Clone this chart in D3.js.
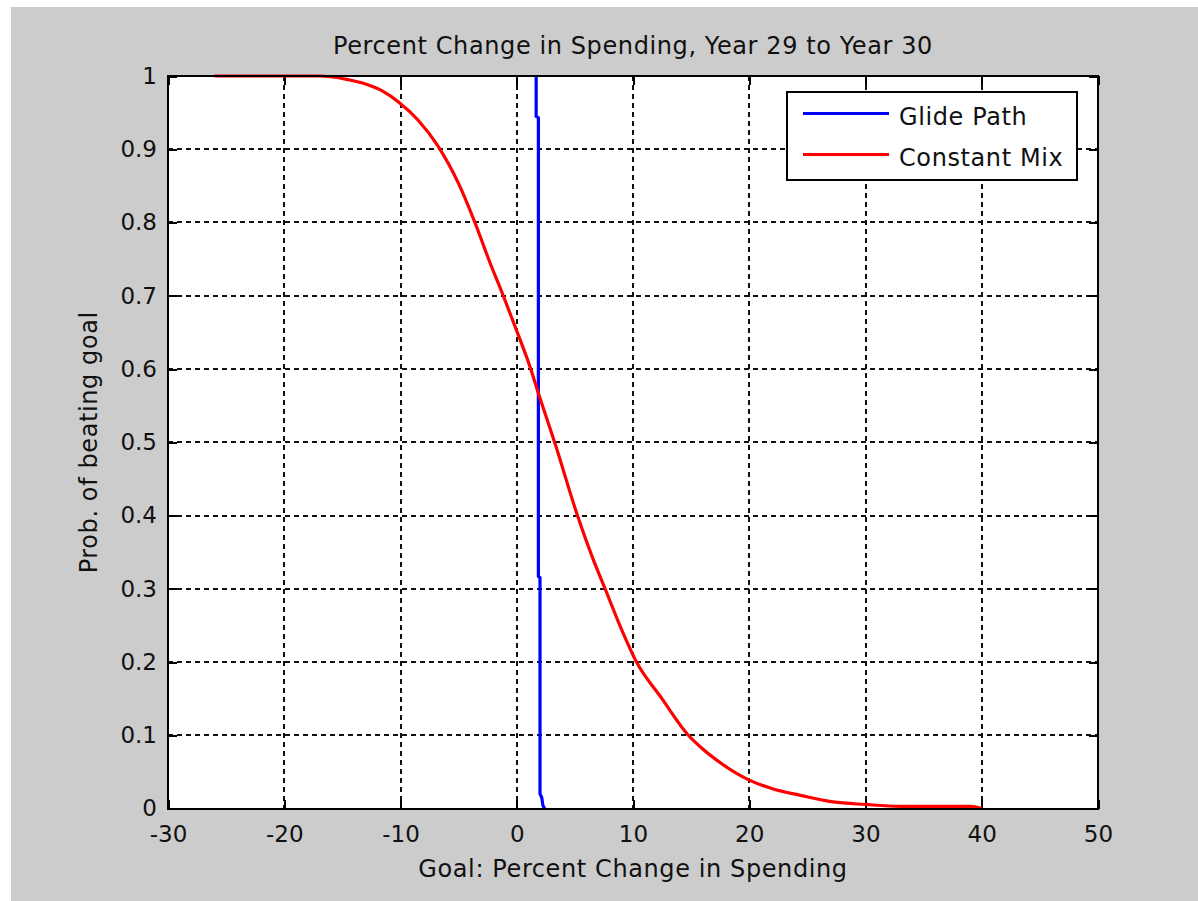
<!DOCTYPE html>
<html>
<head>
<meta charset="utf-8">
<script src="https://cdn.jsdelivr.net/npm/d3@7"></script>
<style>
  html, body { margin: 0; padding: 0; background: #ffffff; }
  svg { display: block; }
  text { font-family: "DejaVu Sans", "Liberation Sans", sans-serif; fill: #111; }
</style>
</head>
<body>
<svg id="chart" width="1198" height="901"></svg>
<script>
// ---- Data ----
const titleText = "Percent Change in Spending, Year 29 to Year 30";
const xLabelText = "Goal: Percent Change in Spending";
const yLabelText = "Prob. of beating goal";

const xTicks = [-30, -20, -10, 0, 10, 20, 30, 40, 50];
const xTickLabels = ["-30", "-20", "-10", "0", "10", "20", "30", "40", "50"];
const yTicks = [0, 0.1, 0.2, 0.3, 0.4, 0.5, 0.6, 0.7, 0.8, 0.9, 1];
const yTickLabels = ["0", "0.1", "0.2", "0.3", "0.4", "0.5", "0.6", "0.7", "0.8", "0.9", "1"];

const seriesNames = ["Glide Path", "Constant Mix"];
const seriesColors = ["#0000ff", "#ff0000"];

// Glide Path: goal (%) vs probability
const glideX = [1.67, 1.67, 1.86, 1.86, 2.0, 2.0, 2.15, 2.25, 2.4];
const glideY = [1.0, 0.945, 0.943, 0.317, 0.315, 0.02, 0.015, 0.004, 0.0];

// Constant Mix: goal (%) vs probability
const mixX = [-26, -17, -16, -14.5, -13.2, -11.5, -10.2, -8.5, -6.8, -5, -3.6, -2.3, -1.16, 0, 1.14, 1.86, 3.3, 5.16, 6.6, 7.6, 9, 10.3, 12.4, 14.76, 15.8, 17.2, 20.1, 22, 24.4, 27.2, 30, 33, 39, 40];
const mixY = [1, 1, 0.999, 0.995, 0.99, 0.979, 0.965, 0.94, 0.905, 0.853, 0.8, 0.745, 0.7, 0.652, 0.603, 0.567, 0.498, 0.403, 0.339, 0.3, 0.245, 0.2, 0.152, 0.1, 0.084, 0.066, 0.038, 0.027, 0.018, 0.009, 0.0055, 0.003, 0.003, 0];

// ---- Layout ----
const W = 1198, H = 901;
const plot = { left: 168, top: 76, right: 1098, bottom: 808.5 };
const fsBig = 24, fsTick = 23;
const ls = "0.6px";

const svg = d3.select("#chart");

svg.append("rect").attr("x", 11).attr("y", 7).attr("width", W - 11).attr("height", H - 7)
  .attr("fill", "#cccccc");

svg.append("rect").attr("x", plot.left).attr("y", plot.top)
  .attr("width", plot.right - plot.left).attr("height", plot.bottom - plot.top)
  .attr("fill", "#ffffff");

const x = d3.scaleLinear().domain([-30, 50]).range([plot.left, plot.right]);
const y = d3.scaleLinear().domain([0, 1]).range([plot.bottom, plot.top]);

// Grid
const grid = svg.append("g").attr("shape-rendering", "crispEdges");
grid.selectAll("line.vx").data(xTicks.slice(1, -1)).join("line")
  .attr("x1", d => Math.round(x(d))).attr("x2", d => Math.round(x(d)))
  .attr("y1", plot.top).attr("y2", plot.bottom)
  .attr("stroke", "#111").attr("stroke-width", 2).attr("stroke-dasharray", "5,4");
grid.selectAll("line.hy").data(yTicks.slice(1, -1)).join("line")
  .attr("y1", d => Math.round(y(d))).attr("y2", d => Math.round(y(d)))
  .attr("x1", plot.left).attr("x2", plot.right)
  .attr("stroke", "#111").attr("stroke-width", 2).attr("stroke-dasharray", "5,4");

// Axes (ticks inward on all four sides)
const tickLen = 9;
const axB = svg.append("g").attr("transform", `translate(0,${plot.bottom})`)
  .call(d3.axisBottom(x).tickValues(xTicks).tickSize(-tickLen).tickPadding(17)
    .tickFormat((d, i) => xTickLabels[i]));
const axT = svg.append("g").attr("transform", `translate(0,${plot.top})`)
  .call(d3.axisTop(x).tickValues(xTicks).tickSize(-tickLen).tickFormat(""));
const axL = svg.append("g").attr("transform", `translate(${plot.left},0)`)
  .call(d3.axisLeft(y).tickValues(yTicks).tickSize(-tickLen).tickPadding(11)
    .tickFormat((d, i) => yTickLabels[i]));
const axR = svg.append("g").attr("transform", `translate(${plot.right},0)`)
  .call(d3.axisRight(y).tickValues(yTicks).tickSize(-tickLen).tickFormat(""));

[axB, axT, axL, axR].forEach(a => {
  a.select(".domain").remove();
  a.selectAll("line").attr("stroke", "#000").attr("stroke-width", 2).attr("shape-rendering", "crispEdges");
  a.selectAll("text").attr("font-size", fsTick).attr("font-family", '"DejaVu Sans", sans-serif').attr("fill", "#111");
});

// Data lines
const clipId = "plotclip";
svg.append("clipPath").attr("id", clipId).append("rect")
  .attr("x", plot.left).attr("y", plot.top - 2)
  .attr("width", plot.right - plot.left).attr("height", plot.bottom - plot.top + 3);

const line = d3.line().x(d => x(d[0])).y(d => y(d[1]));
const glideData = glideX.map((v, i) => [v, glideY[i]]);
const mixData = mixX.map((v, i) => [v, mixY[i]]);

const lines = svg.append("g").attr("clip-path", `url(#${clipId})`);
lines.append("path").datum(glideData).attr("d", line)
  .attr("fill", "none").attr("stroke", seriesColors[0]).attr("stroke-width", 3.2);
lines.append("path").datum(mixData).attr("d", d3.line().curve(d3.curveMonotoneX).x(d => x(d[0])).y(d => y(d[1])))
  .attr("fill", "none").attr("stroke", seriesColors[1]).attr("stroke-width", 3.2);

// Box
svg.append("rect").attr("x", plot.left).attr("y", plot.top)
  .attr("width", plot.right - plot.left).attr("height", plot.bottom - plot.top)
  .attr("fill", "none").attr("stroke", "#000").attr("stroke-width", 2).attr("shape-rendering", "crispEdges");

// Title & labels
svg.append("text").attr("x", (plot.left + plot.right) / 2).attr("y", 54)
  .attr("text-anchor", "middle").attr("font-size", fsBig).attr("letter-spacing", ls).text(titleText);
svg.append("text").attr("x", (plot.left + plot.right) / 2).attr("y", 877)
  .attr("text-anchor", "middle").attr("font-size", fsBig).attr("letter-spacing", ls).text(xLabelText);
svg.append("text").attr("transform", `translate(97,${(plot.top + plot.bottom) / 2}) rotate(-90)`)
  .attr("text-anchor", "middle").attr("font-size", fsBig).attr("letter-spacing", ls).text(yLabelText);

// Legend
const leg = svg.append("g");
leg.append("rect").attr("x", 787).attr("y", 92).attr("width", 290).attr("height", 88)
  .attr("fill", "#ffffff").attr("stroke", "#000").attr("stroke-width", 2).attr("shape-rendering", "crispEdges");
const legRows = seriesNames.map((n, i) => ({ name: n, color: seriesColors[i], cy: 113.5 + i * 41 }));
leg.selectAll("line.lg").data(legRows).join("line")
  .attr("x1", 803).attr("x2", 889).attr("y1", d => d.cy).attr("y2", d => d.cy)
  .attr("stroke", d => d.color).attr("stroke-width", 3.2);
leg.selectAll("text.lg").data(legRows).join("text")
  .attr("x", 899).attr("y", d => d.cy + 3).attr("dy", "0.36em")
  .attr("font-size", fsBig).attr("letter-spacing", ls).text(d => d.name);
</script>
</body>
</html>
